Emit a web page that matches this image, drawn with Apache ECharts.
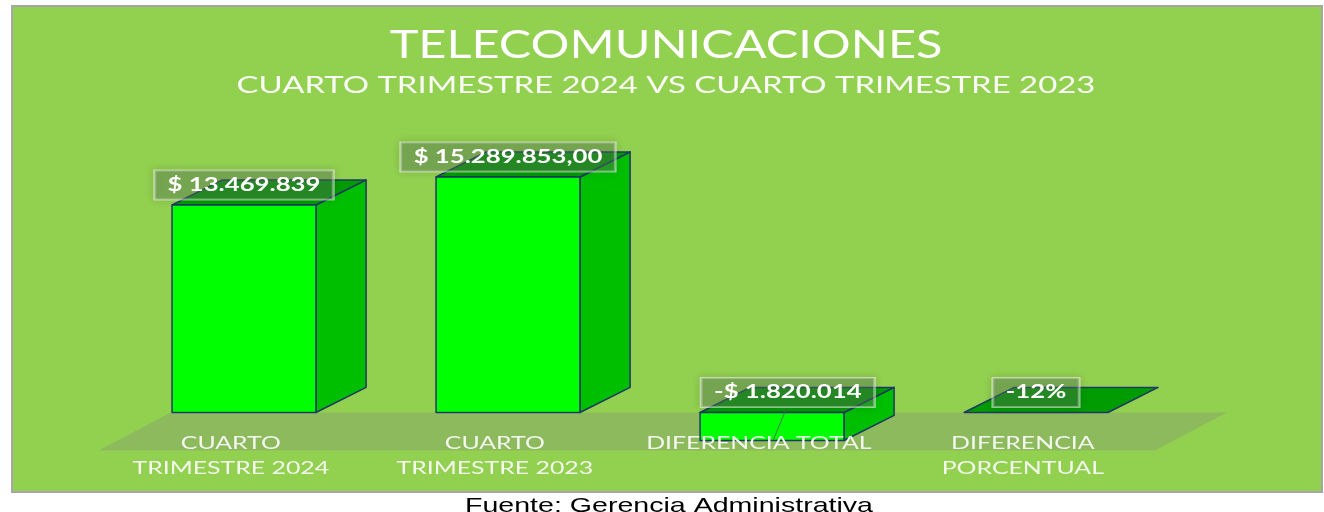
<!DOCTYPE html>
<html>
<head>
<meta charset="utf-8">
<title>Telecomunicaciones</title>
<script src="https://cdn.jsdelivr.net/npm/echarts@6.0.0/dist/echarts.min.js"></script>
<style>
  html, body { margin: 0; padding: 0; background: #fff; }
  #chart { width: 1324px; height: 512px; }
</style>
</head>
<body>
<div id="chart"></div>
<script>
const categories = ['CUARTO\nTRIMESTRE 2024', 'CUARTO\nTRIMESTRE 2023', 'DIFERENCIA TOTAL', 'DIFERENCIA\nPORCENTUAL']
const values = [13469839, 15289853, -1820014, -0.12]
const valueLabels = ['$ 13.469.839', '$ 15.289.853,00', '-$ 1.820.014', '-12%']
const chartTitle = 'TELECOMUNICACIONES'
const chartSubtitle = 'CUARTO TRIMESTRE 2024 VS CUARTO TRIMESTRE 2023'
const sourceNote = 'Fuente: Gerencia Administrativa'

const FONT = 'Lato, "Open Sans", sans-serif'
// the original picture is stretched sideways, so text gets a similar stretch
const FRONT = '#00FF00'
const SIDE = '#00BE00'
const TOP = '#009C00'
const EDGE = '#1F3864'

const renderFloor = (params, api) => {
  const band = api.size([1, 0])[0]
  const first = api.coord([0, 0])
  const last = api.coord([categories.length - 1, 0])
  const fl = first[0] - band / 2 - band * 0.05
  const fr = last[0] + band / 2 - band * 0.05
  const dX = band * 0.273
  const dY = band * 0.144
  const y0 = first[1]
  return {
    type: 'polygon',
    shape: { points: [[fl, y0 + dY], [fr, y0 + dY], [fr + dX, y0], [fl + dX, y0]] },
    style: { fill: 'rgba(128,128,128,0.28)' }
  }
}

const renderBar = (params, api) => {
  const idx = params.dataIndex
  const v = api.value(1)
  const base = api.coord([api.value(0), 0])
  const tip = api.coord([api.value(0), v])
  const band = api.size([1, 0])[0]
  const w = band * 0.545
  const dx = band * 0.19
  const dy = -band * 0.095
  const cx = base[0]
  const x0 = cx - w / 2
  const x1 = cx + w / 2
  const yT = Math.min(base[1], tip[1])
  const yB = Math.max(base[1], tip[1])
  const edge = { stroke: EDGE, lineWidth: 1.5, lineJoin: 'round' }
  const children = []

  if (yB - yT > 1) {
    children.push({
      type: 'polygon',
      shape: { points: [[x1, yT], [x1 + dx, yT + dy], [x1 + dx, yB + dy], [x1, yB]] },
      style: { fill: SIDE, ...edge }
    })
  }
  children.push({
    type: 'polygon',
    shape: { points: [[x0, yT], [x1, yT], [x1 + dx, yT + dy], [x0 + dx, yT + dy]] },
    style: { fill: TOP, ...edge }
  })
  if (yB - yT > 1) {
    children.push({
      type: 'rect',
      shape: { x: x0, y: yT, width: w, height: yB - yT },
      style: { fill: FRONT, ...edge }
    })
  }

  // category name under the floor
  children.push({
    type: 'text',
    x: cx - band * 0.05,
    y: base[1] + 18,
    scaleX: 1.38,
    style: {
      text: categories[idx],
      fontFamily: FONT,
      fontSize: 18,
      lineHeight: 25,
      fill: 'rgba(255,255,255,0.9)',
      align: 'center',
      verticalAlign: 'top'
    }
  })

  const shifted = v < 0 && yB - yT > 4
  const lx = cx + (shifted ? band * 0.06 : 0)
  const ly = yT - 20
  if (shifted) {
    children.push({
      type: 'line',
      shape: { x1: lx - 1, y1: ly + 15, x2: cx + 1, y2: yB },
      style: { stroke: 'rgba(90,90,90,0.8)', lineWidth: 1 }
    })
  }
  children.push({
    type: 'text',
    x: lx,
    y: ly,
    scaleX: 1.43,
    z2: 10,
    style: {
      text: valueLabels[idx],
      fontFamily: FONT,
      fontSize: 18,
      fontWeight: 'bold',
      fill: '#fff',
      align: 'center',
      verticalAlign: 'middle',
      lineHeight: 20,
      padding: [5, 9, 4, 9],
      backgroundColor: 'rgba(95,125,95,0.38)',
      borderColor: 'rgba(255,255,255,0.55)',
      borderWidth: 1,
      shadowBlur: 8,
      shadowColor: 'rgba(0,0,0,0.25)'
    }
  })

  return { type: 'group', children }
}

const chart = echarts.init(document.getElementById('chart'))

chart.setOption({
  backgroundColor: '#fff',
  animation: false,
  graphic: [
    {
      type: 'rect',
      z: -10,
      shape: { x: 12, y: 6, width: 1310, height: 486 },
      style: { fill: '#92D050', stroke: '#A6A6A6', lineWidth: 2 }
    },
    {
      type: 'text',
      x: 666,
      y: 46,
      scaleX: 1.28,
      style: { text: chartTitle, fontFamily: FONT, fontSize: 38, fill: '#fff', align: 'center', verticalAlign: 'middle' }
    },
    {
      type: 'text',
      x: 666,
      y: 86,
      scaleX: 1.43,
      style: { text: chartSubtitle, fontFamily: FONT, fontSize: 23, fill: 'rgba(255,255,255,0.95)', align: 'center', verticalAlign: 'middle' }
    },
    {
      type: 'text',
      x: 669,
      y: 506,
      scaleX: 1.36,
      style: { text: sourceNote, fontFamily: '"Liberation Sans", Arial, sans-serif', fontSize: 21, fill: '#000', align: 'center', verticalAlign: 'middle' }
    }
  ],
  grid: {
    left: 112,
    right: 156,
    top: 104.4,
    bottom: 37.9
  },
  xAxis: {
    type: 'category',
    data: categories,
    show: false
  },
  yAxis: {
    type: 'value',
    min: -4000000,
    max: 20000000,
    show: false
  },
  series: [
    {
      type: 'custom',
      z: 1,
      silent: true,
      renderItem: renderFloor,
      data: [[0, 0]]
    },
    {
      type: 'custom',
      z: 2,
      renderItem: renderBar,
      encode: { x: 0, y: 1 },
      data: values.map((v, i) => [i, v])
    }
  ]
})
</script>
</body>
</html>
